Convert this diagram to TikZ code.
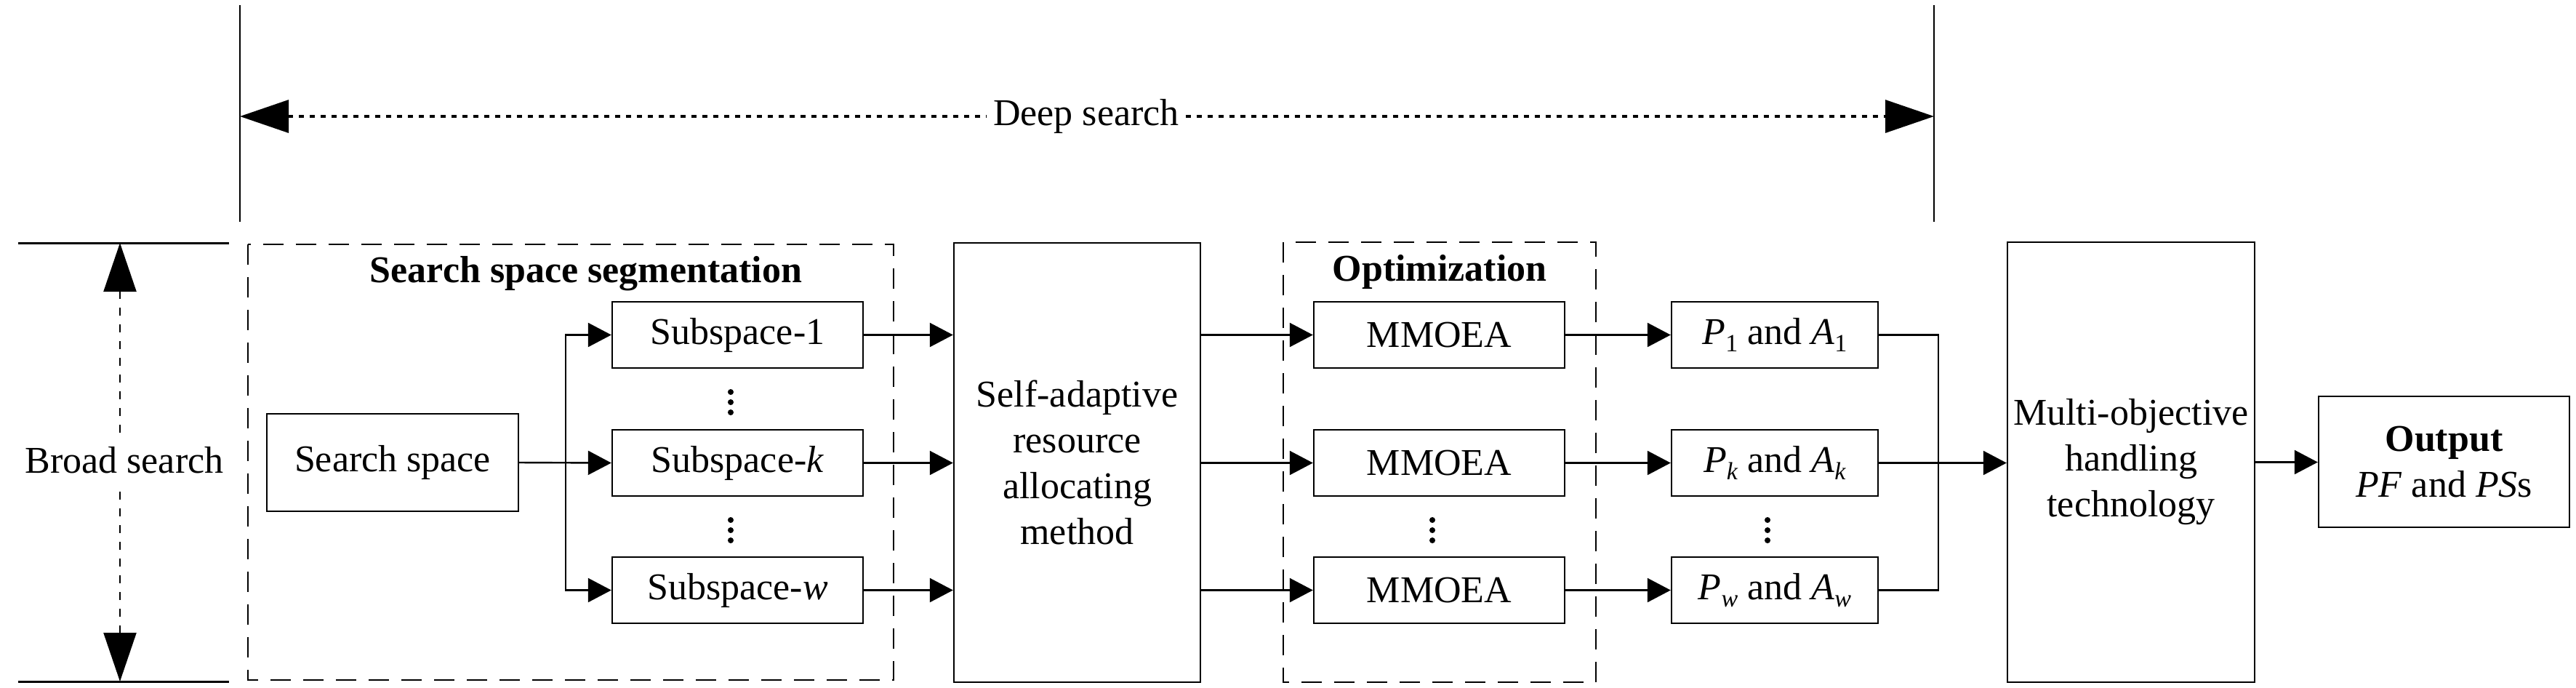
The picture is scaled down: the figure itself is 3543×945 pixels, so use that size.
\documentclass[tikz,border=0pt]{standalone}
\usepackage{fontspec}
\setmainfont{Liberation Serif}
\usetikzlibrary{arrows.meta}
\newcommand\lsub[1]{\raisebox{-2.5pt}{\fontsize{8.5}{9}\selectfont #1}}
\begin{document}
\begin{tikzpicture}[x=0.25pt,y=-0.25pt,
  every node/.style={font=\fontsize{13}{15.75}\selectfont, inner sep=0pt},
  blk/.style={draw, line width=0.6pt, align=center},
  sbox/.style={blk, minimum width=86.25pt, minimum height=22.75pt},
  pbox/.style={blk, minimum width=71pt, minimum height=22.75pt},
  conn/.style={line width=0.6pt},
  arr/.style={line width=0.6pt, -{Triangle[length=8pt,width=8.25pt]}},
  bigtip/.style={Triangle[length=16.75pt,width=11.25pt]},
  bigarr/.style={line width=0.6pt, {Triangle[length=16.75pt,width=11.25pt]}-{Triangle[length=16.75pt,width=11.25pt]}},
  dotline/.style={line width=0.8pt, dash pattern=on 1.75pt off 2pt},
  grp/.style={line width=0.7pt, dash pattern=on 7pt off 4.25pt},
  title/.style={font=\bfseries\fontsize{13}{15.75}\selectfont},
]
\useasboundingbox (0,0) rectangle (3543,945);

% top and side markers
\draw[conn] (330,7) -- (330,305);
\draw[conn] (2660,7) -- (2660,305);
\draw[line width=0.75pt] (25,334) -- (315,334);
\draw[line width=0.75pt] (25,937) -- (315,937);

% deep search
\coordinate (dl) at (330,160);
\coordinate (dr) at (2660,160);
\node[inner xsep=2pt, inner ysep=2pt] (ds) at (1494,160) {Deep search};
\draw[dotline, {Triangle[length=16.75pt,width=11.25pt]}-] (dl) -- (ds.west);
\draw[dotline, -{Triangle[length=16.75pt,width=11.25pt]}] (ds.east) -- (dr);

% broad search
\coordinate (bt) at (165,334);
\coordinate (bb) at (165,937);
\draw[bigarr, line width=0.55pt, dash pattern=on 2.75pt off 3pt] (bt) -- (bb);
\node[fill=white, inner xsep=1pt, inner ysep=5pt] (bs) at (171,633) {Broad search};

% groups
\draw[grp] (341,336) rectangle (1229,935);
\draw[grp] (1765,333) rectangle (2195,938);
\node[title] (t1) at (806,376) {Search space segmentation};
\node[title] (t2) at (1980,374) {Optimization};

% blocks
\node[blk, minimum width=86.5pt, minimum height=33.5pt] (ss) at (540,636) {Search space};
\node[sbox] (s1) at (1014.5,460.5) {Subspace-1};
\node[sbox] (sk) at (1014.5,636.5) {Subspace-\textit{k}};
\node[sbox] (sw) at (1014.5,811.5) {Subspace-\textit{w}};
\node[blk, minimum width=84.75pt, minimum height=151pt] (sa) at (1481.5,636) {Self-adaptive\\resource\\allocating\\method};
\node[sbox] (m1) at (1979.5,460.5) {MMOEA};
\node[sbox] (mk) at (1979.5,636.5) {MMOEA};
\node[sbox] (mw) at (1979.5,811.5) {MMOEA};
\node[pbox] (p1) at (2441,460.5) {\textit{P}\lsub{1} and \textit{A}\lsub{1}};
\node[pbox] (pk) at (2441,636.5) {\textit{P}\lsub{\textit{k}} and \textit{A}\lsub{\textit{k}}};
\node[pbox] (pw) at (2441,811.5) {\textit{P}\lsub{\textit{w}} and \textit{A}\lsub{\textit{w}}};
\node[blk, minimum width=85pt, minimum height=151.25pt] (mo) at (2931,635.5) {Multi-objective\\handling\\technology};
\node[blk, minimum width=86.25pt, minimum height=45pt] (out) at (3361.5,635) {\textbf{Output}\\\textit{PF} and \textit{PS}s};

% dots
\foreach \y in {539,553,567} \fill (1005,\y) circle (1pt);
\foreach \y in {715,729,743} {
  \fill (1005,\y) circle (1pt);
  \fill (1970,\y) circle (1pt);
  \fill (2431,\y) circle (1pt);
}

% connectors
\coordinate (br) at (778,636.5);
\draw[arr] (ss.east) -- (sk.west);
\draw[arr] (br) |- (s1.west);
\draw[arr] (br) |- (sw.west);
\foreach \n in {1,k,w} {
  \draw[arr] (s\n.east) -- (s\n.east -| sa.west);
  \draw[arr] (m\n.west -| sa.east) -- (m\n.west);
  \draw[arr] (m\n.east) -- (p\n.west);
}
\coordinate (mg) at (2666,636.5);
\draw[conn] (p1.east) -| (mg);
\draw[conn] (pw.east) -| (mg);
\draw[arr] (pk.east) -- (pk.east -| mo.west);
\draw[arr] (mo.east) -- (mo.east -| out.west);
\end{tikzpicture}
\end{document}
